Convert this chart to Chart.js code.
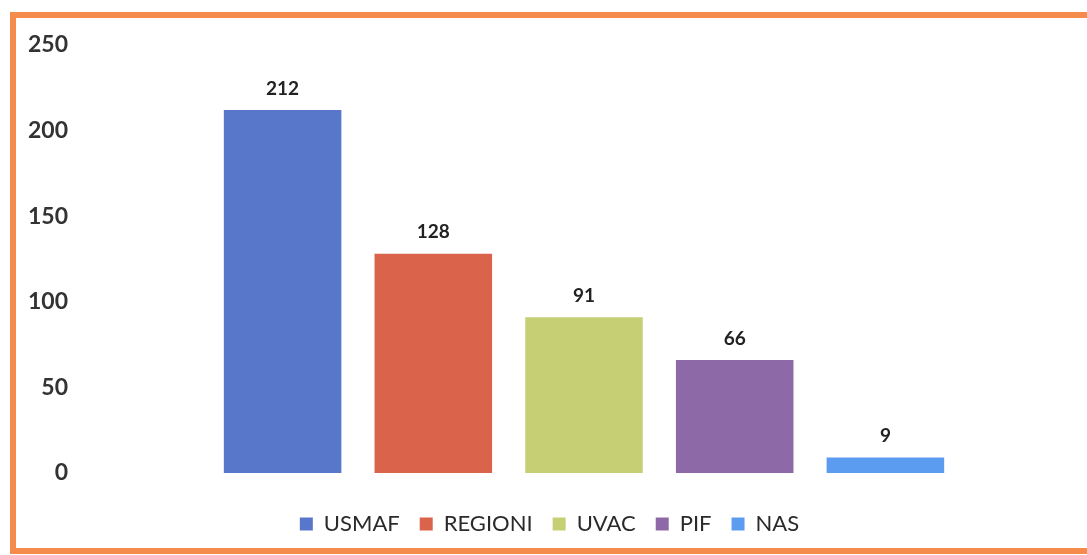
<!DOCTYPE html>
<html>
<head>
<meta charset="utf-8">
<script src="https://cdn.jsdelivr.net/npm/chart.js@4"></script>
<style>
  html, body { margin: 0; padding: 0; background: #fff; overflow: hidden; }
  .frame {
    position: absolute;
    left: 10px; top: 12px;
    width: 1077px; height: 530px;
    border: 6px solid #f58b4c;
    background: #fff;
  }
  canvas { display: block; position: absolute; left: 0; top: -4px; }
</style>
</head>
<body>
<div class="frame"><canvas id="chart" width="1077" height="534"></canvas></div>
<script>
// ---- data ----
const seriesNames  = ['USMAF', 'REGIONI', 'UVAC', 'PIF', 'NAS'];
const seriesValues = [212, 128, 91, 66, 9];
const seriesColors = ['#5877cb', '#d9634b', '#c6cf74', '#8d69a8', '#5c9cf0'];
const yTicks       = [0, 50, 100, 150, 200, 250];

const FONT = 'Lato, "Open Sans", sans-serif';

// value labels above each bar
const valueLabels = {
  id: 'valueLabels',
  afterDatasetsDraw(chart) {
    const ctx = chart.ctx;
    ctx.save();
    ctx.font = 'bold 19px ' + FONT;
    ctx.fillStyle = '#222';
    ctx.textAlign = 'center';
    ctx.textBaseline = 'bottom';
    chart.data.datasets.forEach((ds, i) => {
      const bar = chart.getDatasetMeta(i).data[0];
      ctx.fillText(String(ds.data[0]), bar.x, bar.y - 12);
    });
    ctx.restore();
  }
};

new Chart(document.getElementById('chart'), {
  type: 'bar',
  data: {
    labels: [''],
    datasets: seriesNames.map((name, i) => ({
      label: name,
      data: [seriesValues[i]],
      backgroundColor: seriesColors[i],
      borderWidth: 0,
      categoryPercentage: 0.755,
      barPercentage: 0.78,
    })),
  },
  options: {
    responsive: false,
    animation: false,
    layout: { padding: { top: 21, right: 10, bottom: 3, left: 0 } },
    plugins: {
      legend: {
        position: 'bottom',
        labels: {
          boxWidth: 13,
          boxHeight: 13,
          padding: 20,
          color: '#2a2a2a',
          font: { family: FONT, size: 22 },
        },
      },
      tooltip: { enabled: false },
    },
    scales: {
      x: {
        grid: { display: false, drawTicks: false },
        border: { display: false },
        ticks: { display: false },
        afterFit: s => { s.height = 20; },
      },
      y: {
        min: 0,
        max: 250,
        afterBuildTicks: s => { s.ticks = yTicks.map(v => ({ value: v })); },
        grid: { display: false, drawTicks: false },
        border: { display: false },
        ticks: {
          color: '#333',
          padding: 17,
          font: { family: FONT, size: 23, weight: 'bold' },
        },
        afterFit: s => { s.width = 69; },
      },
    },
  },
  plugins: [valueLabels],
});
</script>
</body>
</html>
